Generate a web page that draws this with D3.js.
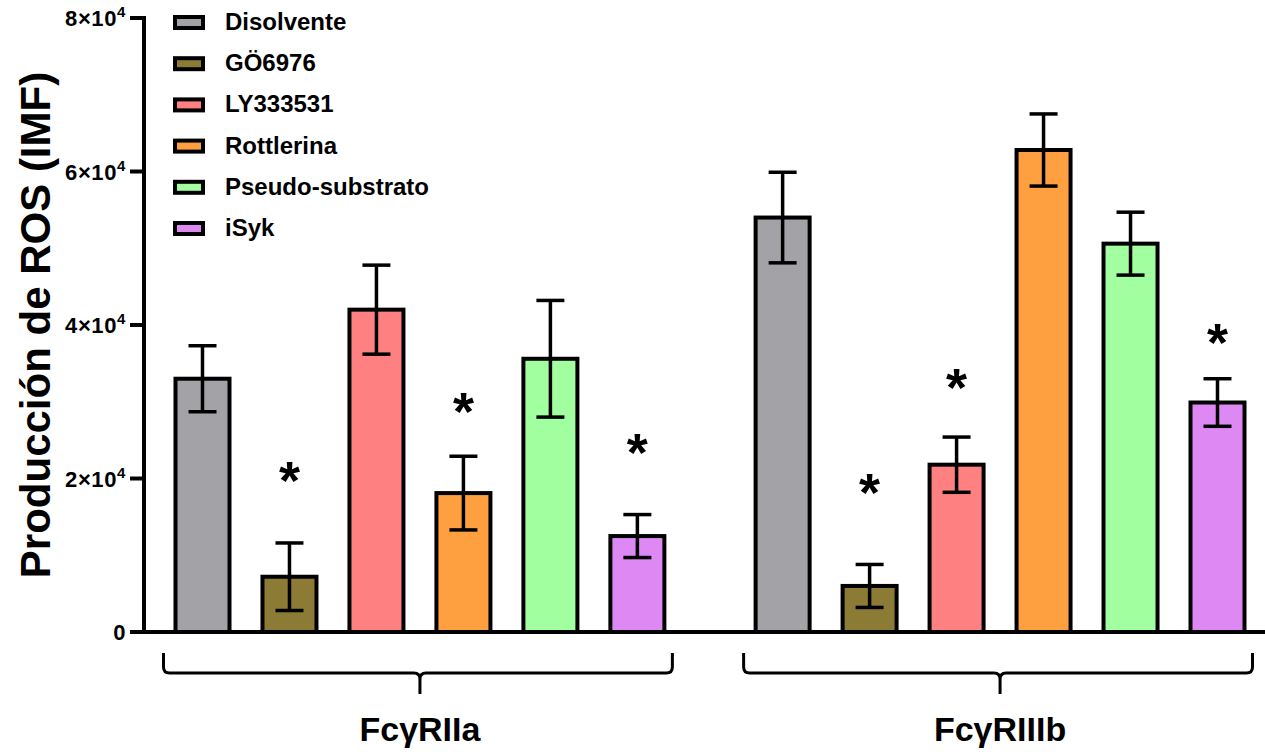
<!DOCTYPE html>
<html>
<head>
<meta charset="utf-8">
<script src="https://cdn.jsdelivr.net/npm/d3@7"></script>
<style>
  body { margin: 0; background: #fff; }
  svg { display: block; font-family: "Liberation Sans", Arial, sans-serif; }
</style>
</head>
<body>
<svg id="chart" width="1265" height="755"></svg>
<script>
// Receptor groups and treatments
const groups = ["FcγRIIa", "FcγRIIIb"];
const treatments = ["Disolvente", "GÖ6976", "LY333531", "Rottlerina", "Pseudo-substrato", "iSyk"];
const colors = ["#a3a2a7", "#8c7b35", "#ff8080", "#ffa040", "#a2ff9f", "#dd88f3"];

// Mean ROS production (IMF) per treatment, one array per receptor
const meansRIIa  = [33000, 7200, 42000, 18100, 35600, 12500];
const semRIIa    = [4300, 4400, 5800, 4800, 7600, 2800];
const meansRIIIb = [54000, 6000, 21800, 62800, 50600, 29900];
const semRIIIb   = [5900, 2800, 3600, 4700, 4100, 3100];

// Significance marks: treatment index and the height the asterisk sits at
const starsRIIa  = [{i: 1, y: 21000}, {i: 3, y: 30000}, {i: 5, y: 24600}];
const starsRIIIb = [{i: 1, y: 19400}, {i: 2, y: 33100}, {i: 5, y: 39000}];

const yTicks = [0, 20000, 40000, 60000, 80000];

const svg = d3.select("#chart");

const y = d3.scaleLinear().domain([0, 80000]).range([632, 18]);
// bar slot position: treatment index plus group offset (gap of ~2/3 slot between groups)
const groupOffset = 6.67;
const x = d3.scaleLinear().domain([0, 5 + groupOffset]).range([202.5, 1217.5]);
const barW = 54;

const data = [];
groups.forEach((g, gi) => {
  const means = gi === 0 ? meansRIIa : meansRIIIb;
  const sems = gi === 0 ? semRIIa : semRIIIb;
  treatments.forEach((t, ti) => {
    data.push({g, gi, t, ti, mean: means[ti], sem: sems[ti], pos: ti + gi * groupOffset});
  });
});

// Bars
svg.append("g").selectAll("rect").data(data).join("rect")
  .attr("x", d => x(d.pos) - barW / 2)
  .attr("y", d => y(d.mean))
  .attr("width", barW)
  .attr("height", d => y(0) - y(d.mean))
  .attr("fill", d => colors[d.ti])
  .attr("stroke", "#000")
  .attr("stroke-width", 4);

// Error bars (mean ± SEM)
const eb = svg.append("g").attr("stroke", "#000").attr("stroke-width", 3.5).attr("fill", "none");
data.forEach(d => {
  const cx = x(d.pos), cap = 14;
  eb.append("line").attr("x1", cx).attr("x2", cx).attr("y1", y(d.mean + d.sem)).attr("y2", y(d.mean - d.sem));
  eb.append("line").attr("x1", cx - cap).attr("x2", cx + cap).attr("y1", y(d.mean + d.sem)).attr("y2", y(d.mean + d.sem));
  eb.append("line").attr("x1", cx - cap).attr("x2", cx + cap).attr("y1", y(d.mean - d.sem)).attr("y2", y(d.mean - d.sem));
});

// Asterisks
const stars = [
  ...starsRIIa.map(s => ({pos: s.i, y: s.y})),
  ...starsRIIIb.map(s => ({pos: s.i + groupOffset, y: s.y}))
];
svg.append("g").selectAll("text").data(stars).join("text")
  .attr("x", d => x(d.pos))
  .attr("y", d => y(d.y) + 28)
  .attr("text-anchor", "middle")
  .attr("font-size", 54)
  .attr("font-weight", "bold")
  .text("*");

// Axes
const axisG = svg.append("g").attr("stroke", "#000").attr("stroke-width", 4).attr("fill", "none");
axisG.append("line").attr("x1", 144).attr("x2", 144).attr("y1", y(80000) - 2).attr("y2", y(0) + 2);
axisG.append("line").attr("x1", 130).attr("x2", 1265).attr("y1", y(0)).attr("y2", y(0));
yTicks.forEach(v => {
  axisG.append("line").attr("x1", 130).attr("x2", 144).attr("y1", y(v)).attr("y2", y(v));
});

const tickLabels = svg.append("g").attr("font-size", 22).attr("font-weight", "bold")
  .attr("text-anchor", "end").attr("letter-spacing", 0.6);
yTicks.forEach(v => {
  const t = tickLabels.append("text").attr("x", 126).attr("y", y(v) + 8);
  if (v === 0) {
    t.text("0");
  } else {
    t.append("tspan").text(`${v / 10000}×10`);
    t.append("tspan").attr("dy", -9).attr("font-size", 15).text("4");
  }
});

// Y axis title
svg.append("text")
  .attr("transform", `translate(50,${325}) rotate(-90)`)
  .attr("text-anchor", "middle")
  .attr("font-size", 42)
  .attr("font-weight", "bold")
  .text("Producción de ROS (IMF)");

// Group braces and labels
const braceG = svg.append("g").attr("stroke", "#000").attr("stroke-width", 3).attr("fill", "none")
  .attr("stroke-linejoin", "round").attr("stroke-linecap", "butt");
groups.forEach((g, gi) => {
  const x0 = x(gi * groupOffset) - 39, x1 = x(5 + gi * groupOffset) + 35;
  const mid = (x(gi * groupOffset) + x(5 + gi * groupOffset)) / 2;
  const top = 653, h = 673, tip = 694;
  braceG.append("path").attr("d",
    `M${x0},${top} L${x0},${h - 6} Q${x0},${h} ${x0 + 6},${h} L${mid - 6},${h} Q${mid},${h} ${mid},${h + 6} L${mid},${tip}` +
    ` M${x1},${top} L${x1},${h - 6} Q${x1},${h} ${x1 - 6},${h} L${mid + 6},${h} Q${mid},${h} ${mid},${h + 6}`);
  svg.append("text")
    .attr("x", mid)
    .attr("y", 741)
    .attr("text-anchor", "middle")
    .attr("font-size", 34)
    .attr("font-weight", "bold")
    .text(g);
});

// Legend
const legend = svg.append("g");
treatments.forEach((t, i) => {
  const ly = 22 + i * 41.2;
  legend.append("rect").attr("x", 175).attr("y", ly - 5).attr("width", 28).attr("height", 11)
    .attr("fill", colors[i]).attr("stroke", "#000").attr("stroke-width", 4);
  legend.append("text").attr("x", 225).attr("y", ly + 8).attr("font-size", 24)
    .attr("font-weight", "bold").text(t);
});
</script>
</body>
</html>
